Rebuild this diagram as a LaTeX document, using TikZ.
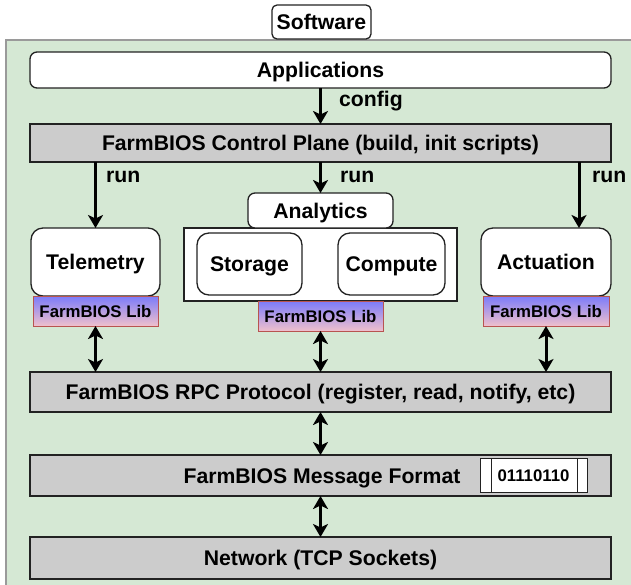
\documentclass[tikz,border=0pt]{standalone}
\usepackage{fontspec}
\setmainfont{Liberation Sans}
\usetikzlibrary{arrows.meta,shadings}
\definecolor{bggreen}{HTML}{D5E8D4}
\definecolor{bgborder}{HTML}{9A9A9A}
\definecolor{layergray}{HTML}{CCCCCC}
\definecolor{libtop}{HTML}{7B7BFA}
\definecolor{libbot}{HTML}{F0C0CC}
\definecolor{libborder}{HTML}{B85450}
\definecolor{boxborder}{HTML}{222222}
\newcommand{\bigtxt}{\fontsize{21.2}{24}\selectfont\bfseries}
\newcommand{\smalltxt}{\fontsize{16.8}{19}\selectfont\bfseries}
\begin{document}
\begin{tikzpicture}[x=1pt,y=-1pt,
  base/.style={inner sep=0pt, outer sep=0pt, line width=1.3pt, draw=boxborder, align=center, font=\bigtxt, text height=15.2pt, text depth=0pt},
  rbox/.style={base, fill=white, rounded corners=#1},
  rbox/.default=7pt,
  layer/.style={base, fill=layergray},
  libbox/.style={base, draw=libborder, line width=1pt, top color=libtop, bottom color=libbot, font=\smalltxt, text height=12pt},
  flow/.style={line width=3pt, -{Stealth[length=13pt,width=15pt,inset=3.5pt]}},
  both/.style={line width=3pt, {Stealth[length=13pt,width=15pt,inset=3.5pt]}-{Stealth[length=13pt,width=15pt,inset=3.5pt]}},
  lbl/.style={inner sep=0pt, anchor=west, font=\bigtxt}
]
\useasboundingbox (0,0) rectangle (631,584);
% background container
\draw[fill=bggreen, draw=bgborder, line width=1.6pt] (6,40) rectangle (660,620);
% Software title
\node[rbox=5pt, minimum width=99pt, minimum height=34pt] (sw) at (321.5,22) {Software};
% layers
\node[rbox, minimum width=581pt, minimum height=36pt] (app) at (320.5,70) {Applications};
\node[layer, minimum width=581pt, minimum height=38pt] (ctrl) at (320.5,143) {FarmBIOS Control Plane (build, init scripts)};
% components
\node[rbox=12pt, minimum width=129pt, minimum height=68pt] (tel) at (95.5,262) {Telemetry};
\node[libbox, minimum width=125pt, minimum height=30pt] (lib1) at (95.5,311) {FarmBIOS Lib};
\node[base, fill=white, minimum width=273pt, minimum height=73pt] (cont) at (320.5,264.5) {};
\node[rbox, minimum width=145pt, minimum height=35pt] (anl) at (320.5,210.5) {Analytics};
\node[rbox=12pt, minimum width=105pt, minimum height=62pt] (sto) at (249.5,264) {Storage};
\node[rbox=12pt, minimum width=107pt, minimum height=62pt] (cmp) at (391.5,264) {Compute};
\node[libbox, minimum width=125pt, minimum height=30pt] (lib2) at (320.5,316) {FarmBIOS Lib};
\node[rbox=12pt, minimum width=130pt, minimum height=68pt] (act) at (546,262) {Actuation};
\node[libbox, minimum width=126pt, minimum height=30pt] (lib3) at (546,311) {FarmBIOS Lib};
% lower layers
\node[layer, minimum width=581pt, minimum height=40pt] (rpc) at (320.5,392) {FarmBIOS RPC Protocol (register, read, notify, etc)};
\node[layer, minimum width=581pt, minimum height=41pt] (msg) at (320.5,475.5) {};
\node[inner sep=0pt, font=\bigtxt, text height=15.2pt, text depth=0pt] (msgt) at (322,475.5) {FarmBIOS Message Format};
\node[base, fill=white, line width=1pt, minimum width=107pt, minimum height=34pt, font=\smalltxt, text height=12pt] (bits) at (533.5,475) {01110110};
\draw[line width=1pt, draw=boxborder] (491,458) -- (491,492) (577,458) -- (577,492);
\node[layer, minimum width=581pt, minimum height=42pt] (net) at (320.5,558) {Network (TCP Sockets)};
% connectors
\coordinate (rr) at (579,0);
\draw[flow] (app.south) -- (ctrl.north);
\node[lbl] (lconfig) at (339,101) {config};
\draw[flow] (ctrl.south -| tel) -- (tel.north);
\node[lbl] (lrun1) at (106,177) {run};
\draw[flow] (ctrl.south) -- (anl.north);
\node[lbl] (lrun2) at (340,177) {run};
\draw[flow] (ctrl.south -| rr) -- (act.north -| rr);
\node[lbl] (lrun3) at (592,177) {run};
\draw[both] (lib1.south) -- (rpc.north -| lib1);
\draw[both] (lib2.south) -- (rpc.north);
\draw[both] (lib3.south) -- (rpc.north -| lib3);
\draw[both] (rpc.south) -- (msg.north);
\draw[both] (msg.south) -- (net.north);
\end{tikzpicture}
\end{document}
